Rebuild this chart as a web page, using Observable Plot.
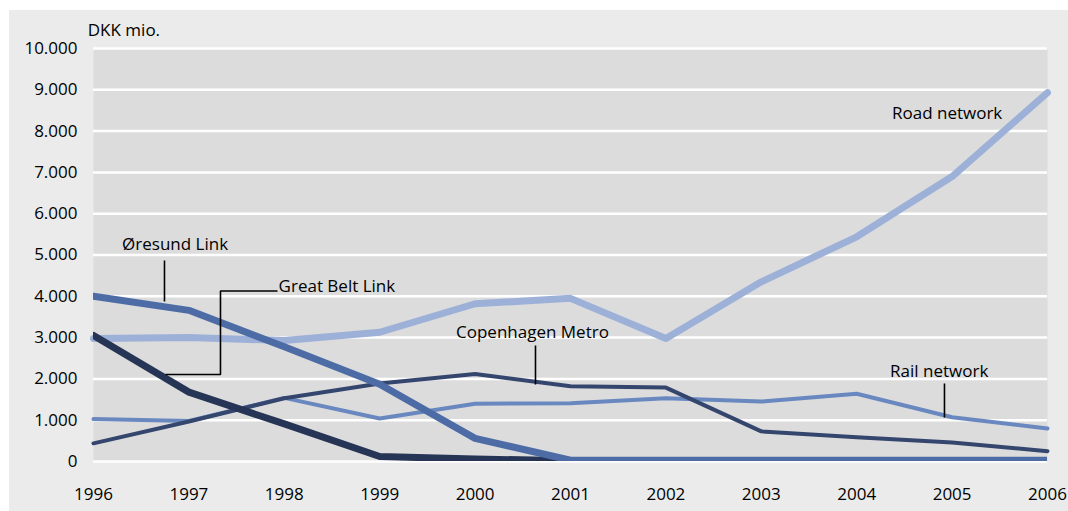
<!DOCTYPE html>
<html>
<head>
<meta charset="utf-8">
<script src="https://cdn.jsdelivr.net/npm/d3@7"></script>
<script src="https://cdn.jsdelivr.net/npm/@observablehq/plot@0.6"></script>
<style>
  html, body { margin: 0; padding: 0; background: #ffffff; }
  #chart { position: absolute; left: 9px; top: 10px; width: 1059px; height: 501px; background: #ebebeb; }
</style>
</head>
<body>
<div id="chart"></div>
<script>
// ---- data ----
const years = [1996, 1997, 1998, 1999, 2000, 2001, 2002, 2003, 2004, 2005, 2006];
const road      = [2980, 3000, 2930, 3130, 3820, 3950, 2980, 4350, 5440, 6900, 8930];
const oresund   = [4000, 3660, 2780, 1870, 560, 30, 30, 30, 30, 30, 30];
const greatBelt = [3050, 1680, 910, 120, 60, 20, 20, 20, 20, 20, 20];
const metro     = [440, 970, 1530, 1890, 2120, 1820, 1790, 730, 590, 460, 250];
const rail      = [1030, 980, 1540, 1040, 1400, 1410, 1530, 1450, 1640, 1070, 800];
const yTicks = [0, 1000, 2000, 3000, 4000, 5000, 6000, 7000, 8000, 9000, 10000];
const unitLabel = "DKK mio.";

// annotation labels (data coordinates)
const labelText = ["Road network", "Øresund Link", "Great Belt Link", "Copenhagen Metro", "Rail network", unitLabel];
const labelYear = [2004.37, 1996.30, 1997.94, 1999.80, 2004.35, 1995.94];
const labelValue = [8430, 5254, 4237, 3123, 2179, 10436];

// leader lines (data coordinates)
const leaderId    = ["o", "o", "g", "g", "g", "g", "m", "m", "r", "r"];
const leaderYear  = [1996.744, 1996.744, 1997.929, 1997.331, 1997.331, 1996.755, 2000.633, 2000.633, 2004.92, 2004.92];
const leaderValue = [4867, 3874, 4128, 4128, 2107, 2107, 2809, 1864, 1889, 1065];

// ---- build tables ----
const rows = vals => years.map((y, i) => ({year: y, value: vals[i]}));
const labels = labelText.map((t, i) => ({text: t, year: labelYear[i], value: labelValue[i]}));
const leaders = leaderId.map((id, i) => ({id, year: leaderYear[i], value: leaderValue[i]}));
const fmt = d => d === 0 ? "0" : d3.format(",")(d).replace(/,/g, ".");

const chart = Plot.plot({
  width: 1059,
  height: 501,
  marginLeft: 84,
  marginTop: 38,
  marginRight: 21,
  marginBottom: 50,
  style: {fontFamily: "'Open Sans', sans-serif", fontSize: "17px", background: "transparent", color: "#000"},
  x: {domain: [1996, 2006]},
  y: {domain: [0, 10000]},
  marks: [
    Plot.frame({fill: "#dcdcdc", stroke: null}),
    Plot.ruleY(yTicks, {stroke: "#ffffff", strokeWidth: 2.5}),
    Plot.axisY({ticks: yTicks, tickSize: 0, tickPadding: 16, tickFormat: fmt, label: null, fontSize: 17}),
    Plot.axisX({ticks: years, tickSize: 0, tickPadding: 26, tickFormat: d => String(d), label: null, fontSize: 17}),
    Plot.line(rows(rail), {x: "year", y: "value", stroke: "#6a88c0", strokeWidth: 4}),
    Plot.line(rows(metro), {x: "year", y: "value", stroke: "#34466e", strokeWidth: 4}),
    Plot.line(rows(road), {x: "year", y: "value", stroke: "#9db1d8", strokeWidth: 7}),
    Plot.line(rows(greatBelt), {x: "year", y: "value", stroke: "#263556", strokeWidth: 7, clip: true}),
    Plot.line(rows(oresund), {x: "year", y: "value", stroke: "#4d6ca6", strokeWidth: 7, clip: true}),
    Plot.line(leaders, {x: "year", y: "value", z: "id", stroke: "#000", strokeWidth: 1.6, strokeLinejoin: "miter", strokeLinecap: "butt"}),
    Plot.text(labels, {x: "year", y: "value", text: "text", textAnchor: "start", fill: "#000", fontSize: 17})
  ]
});
document.getElementById("chart").appendChild(chart);
</script>
</body>
</html>
